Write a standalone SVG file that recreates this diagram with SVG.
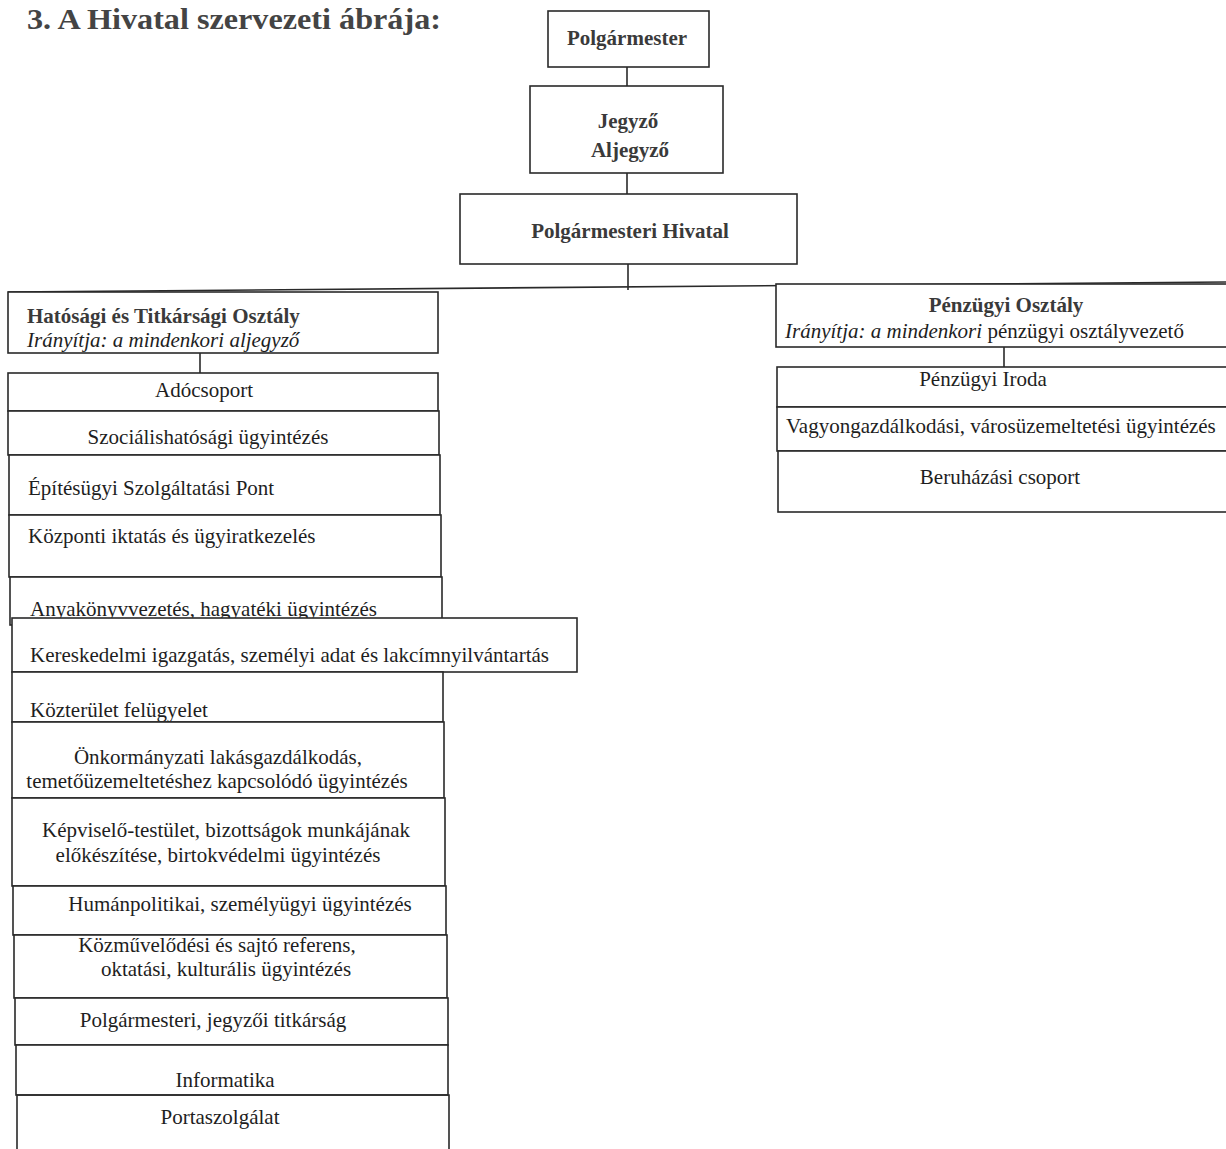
<svg xmlns="http://www.w3.org/2000/svg" width="1226" height="1149" viewBox="0 0 1226 1149">
<style>
.bx{fill:#fff;stroke:#2a2a2a;stroke-width:1.6}
.ln{stroke:#2a2a2a;stroke-width:1.6;fill:none}
text{font-family:"Liberation Serif","Times New Roman",serif;fill:#1e1e1e}
.t{font-size:21px}
.b{font-size:21px;font-weight:bold;fill:#3a3a3a}
.i{font-style:italic}
.m{text-anchor:middle}
.title{font-size:30px;font-weight:bold;fill:#444}
</style>
<rect width="1226" height="1149" fill="#fff"/>
<text class="title" x="27" y="29" textLength="414" lengthAdjust="spacingAndGlyphs">3. A Hivatal szervezeti ábrája:</text>

<g id="connectors">
<line class="ln" x1="627" y1="67" x2="627" y2="86"/>
<line class="ln" x1="627" y1="173" x2="627" y2="194"/>
<line class="ln" x1="628" y1="264" x2="628" y2="290"/>
<line class="ln" x1="8" y1="292" x2="1226" y2="282"/>
<line class="ln" x1="200" y1="353" x2="200" y2="373"/>
<line class="ln" x1="1004" y1="347" x2="1004" y2="367"/>
</g>

<g id="polgarmester">
<rect class="bx" x="548" y="11" width="161" height="56"/>
<text class="b m" x="627" y="45">Polgármester</text>
</g>
<g id="jegyzo">
<rect class="bx" x="530" y="86" width="193" height="87"/>
<text class="b m" x="628" y="128">Jegyző</text>
<text class="b m" x="630" y="157">Aljegyző</text>
</g>
<g id="hivatal">
<rect class="bx" x="460" y="194" width="337" height="70"/>
<text class="b m" x="630" y="238">Polgármesteri Hivatal</text>
</g>

<g id="hatosagi">
<rect class="bx" x="8" y="292" width="430" height="61"/>
<text class="b" x="27" y="323">Hatósági és Titkársági Osztály</text>
<text class="t i" x="27" y="347">Irányítja: a mindenkori aljegyző</text>
</g>

<g id="adocsoport">
<rect class="bx" x="8" y="373" width="430" height="38"/>
<text class="t m" x="204" y="397">Adócsoport</text>
</g>
<g id="szocialis">
<rect class="bx" x="8" y="411" width="431" height="44"/>
<text class="t m" x="208" y="444">Szociálishatósági ügyintézés</text>
</g>
<g id="epitesugyi">
<rect class="bx" x="9" y="455" width="431" height="60"/>
<text class="t" x="28" y="495">Építésügyi Szolgáltatási Pont</text>
</g>
<g id="kozponti">
<rect class="bx" x="9" y="515" width="432" height="62"/>
<text class="t" x="28" y="543">Központi iktatás és ügyiratkezelés</text>
</g>
<g id="anyakonyv">
<rect class="bx" x="10" y="577" width="432" height="48"/>
<text class="t" x="30" y="616">Anyakönyvvezetés, hagyatéki ügyintézés</text>
</g>
<g id="kereskedelmi">
<rect class="bx" x="12" y="618" width="565" height="54"/>
<text class="t" x="30" y="662">Kereskedelmi igazgatás, személyi adat és lakcímnyilvántartás</text>
</g>
<g id="kozterulet">
<rect class="bx" x="12" y="672" width="431" height="50"/>
<text class="t" x="30" y="717">Közterület felügyelet</text>
</g>
<g id="onkormanyzati">
<rect class="bx" x="12" y="722" width="432" height="76"/>
<text class="t m" x="218" y="764">Önkormányzati lakásgazdálkodás,</text>
<text class="t m" x="217" y="788">temetőüzemeltetéshez kapcsolódó ügyintézés</text>
</g>
<g id="kepviselo">
<rect class="bx" x="12" y="798" width="433" height="88"/>
<text class="t m" x="226" y="837">Képviselő-testület, bizottságok munkájának</text>
<text class="t m" x="218" y="862">előkészítése, birtokvédelmi ügyintézés</text>
</g>
<g id="humanpolitikai">
<rect class="bx" x="13" y="886" width="433" height="49"/>
<text class="t m" x="240" y="911">Humánpolitikai, személyügyi ügyintézés</text>
</g>
<g id="kozmuvelodesi">
<rect class="bx" x="14" y="935" width="433" height="63"/>
<text class="t m" x="217" y="952">Közművelődési és sajtó referens,</text>
<text class="t m" x="226" y="976">oktatási, kulturális ügyintézés</text>
</g>
<g id="titkarsag">
<rect class="bx" x="15" y="998" width="433" height="47"/>
<text class="t m" x="213" y="1027">Polgármesteri, jegyzői titkárság</text>
</g>
<g id="informatika">
<rect class="bx" x="16" y="1045" width="432" height="50"/>
<text class="t m" x="225" y="1087">Informatika</text>
</g>
<g id="portaszolgalat">
<path class="ln" d="M17 1149 V1095 H449 V1149"/>
<text class="t m" x="220" y="1124">Portaszolgálat</text>
</g>

<g id="penzugyi">
<rect class="bx" x="776" y="284" width="460" height="63"/>
<text class="b m" x="1006" y="312">Pénzügyi Osztály</text>
<text class="t" x="785" y="338"><tspan class="i">Irányítja: a mindenkori</tspan> pénzügyi osztályvezető</text>
</g>
<g id="penzugyi-iroda">
<rect class="bx" x="777" y="367" width="460" height="40"/>
<text class="t m" x="983" y="386">Pénzügyi Iroda</text>
</g>
<g id="vagyon">
<rect class="bx" x="777" y="407" width="460" height="44"/>
<text class="t" x="786" y="433">Vagyongazdálkodási, városüzemeltetési ügyintézés</text>
</g>
<g id="beruhazasi">
<rect class="bx" x="778" y="451" width="460" height="61"/>
<text class="t m" x="1000" y="484">Beruházási csoport</text>
</g>
</svg>
